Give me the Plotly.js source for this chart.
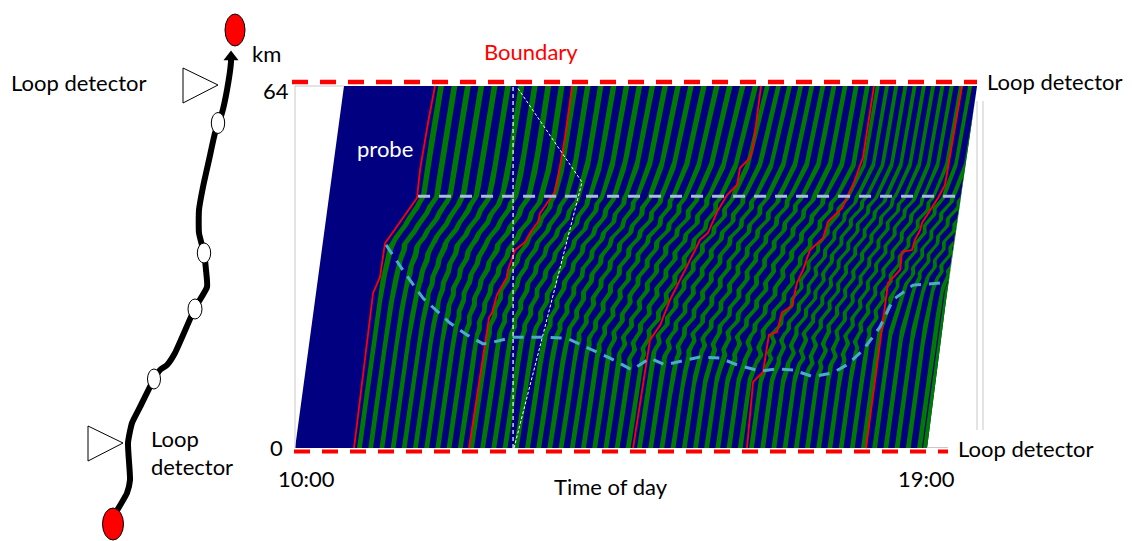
<!DOCTYPE html>
<html><head><meta charset="utf-8">
<script src="https://cdn.plot.ly/plotly-3.0.1.min.js"></script>
<style>html,body{margin:0;padding:0;background:#fff}#c{width:1132px;height:541px}</style>
</head><body><div id="c"></div>
<script>
// time in minutes after 10:00, position in km
const stripeEntry=[53.1,62.7,72.3,81.9,91.4,101.0,110.6,120.2,129.8,139.4,149.0,158.5,168.1,177.7,187.3,196.9,206.5,216.0,225.6,235.2,244.8,254.4,264.0,273.6,283.1,292.7,302.3,311.9,321.5,331.1,340.7,350.2,359.8,369.4,379.0,388.6,398.2,407.8,417.3,426.9,436.5,446.1,455.7,465.3,474.9,484.4,494.0,503.6,513.2,522.8,532.4,537.5];
const rippleShift=[0,.95,1.9,2.85,.6,1.55,2.5,.25,1.2,2.15,3.1,.85,1.8,2.75,.5,1.45,2.4,.15,1.1,2.05,3.0,.75,1.7,2.65,.4,1.35,2.3,.05,1.0,1.95,2.9,.65,1.6,2.55,.3,1.25,2.2,3.15,.9,1.85,2.8,.55,1.5,2.45,.2,1.15,2.1,3.05,.8,1.75,2.7,.45];
const rippleAmp=[.3,.3,.3,.3,.35,.35,.4,.4,.45,.45,.5,.5,.55,.55,.6,.6,.65,.65,.7,.7,.75,.75,.8,.8,.8,.8,.8,.8,.8,.8,.8,.8,.8,.8,.8,.8,.8,.8,.8,.8,.8,.8,.8,.8,.8,.8,.8,.8,.8,.8,.8,.8];
const rippleCycle=[0,1.0,1.7,1.9,1.4,0.4,-0.7,-1.6,-1.9,-1.3,-0.6,-0.2];
const ripplePeriodKm=3.2, stripeWidth=4.1, freeFlow=0.655;

// stripe drift (minutes behind free flow) read along the red trajectories
const driftKm=[0,12,16,20,24,28,32,36,40,44.5,50,64];
const driftEntry=[50.5,148.9,289.3,386.8,488.7,540.9];
const driftTable=[
 [0,0,0,0,0,0,1,3,14,25,25,27],
 [0,1.3,1,1.2,4,7.8,14.4,22.5,32.9,42,45.2,46.3],
 [0,1.2,1.2,4.3,11.8,17.4,24.7,31.8,42.5,50.6,60,67.6],
 [0,0,5.7,5.7,14.3,22.9,27.7,35.6,43.1,54,64.5,66.8],
 [0,0,0,0,4,8,15,22,29,39,46,49],
 [0,0,0,0,0,0,5,12,22,33,42,50]];

const redA=[[50.5,0],[66.8,27.4],[72.7,30.2],[77.0,36.2],[104.4,44.2],[107.0,49.2],[113.8,57.5],[119.8,64]];
const redB=[[148.9,0],[158.3,12.6],[160.9,16.8],[166.0,23.0],[168.6,23.9],[172.9,27.1],[181.4,30.2],[182.3,31.5],[188.3,35.0],[196.8,36.4],[201.1,38.0],[208.0,40.0],[209.7,41.5],[222.5,45.3],[225.1,47.9],[231.1,55.0],[237.1,64]];
const redC=[[289.3,0],[303.8,19.1],[312.4,21.7],[320.9,26.2],[338.0,33.2],[346.6,36.8],[353.4,38.0],[361.1,41.7],[369.7,44.7],[378.3,46.5],[380.8,49.5],[389.4,51.3],[392.0,53.2],[398.8,64]];
const redD=[[386.8,0],[392.0,11.7],[400.5,13.4],[405.6,20.0],[412.5,20.5],[416.8,24.0],[425.3,25.1],[429.6,29.2],[434.8,31.5],[440.7,35.0],[451.9,37.1],[456.1,40.0],[468.1,42.4],[477.5,46.5],[486.1,51.4],[495.5,64]];
const redE=[[488.7,0],[503.2,22.3],[507.5,29.2],[517.8,31.5],[519.5,34.7],[528.0,35.0],[530.6,36.8],[534.9,38.5],[536.6,39.8],[550.3,44.2],[556.3,46.5],[570.8,64]];
const leftEdge=[[0,0],[41.9,64]];
const rightEdge=[[540.9,0],[560.5,31.5],[571.7,46.9],[583.7,64]];
const lowerCurve=[[77.9,35.9],[94.1,30.9],[109.5,26.5],[118.1,24.8],[132.6,22.1],[147.2,20.0],[160.9,18.4],[169.4,18.7],[186.6,19.6],[209.7,19.6],[232.8,19.4],[252.5,17.5],[269.6,15.9],[288.4,13.8],[303.8,15.9],[316.6,14.7],[346.6,16.1],[363.7,15.9],[378.3,14.7],[397.9,13.6],[412.5,14.0],[426.2,13.8],[443.3,12.6],[460.4,13.3],[472.4,14.7],[486.1,17.3],[500.6,21.4],[511.8,26.2],[528.9,28.8],[554.6,29.2]];
const upperKm=44.5, upperT=[105.3,569.1];
const whiteVert=[[186.6,0],[186.6,64]];
const whiteTri=[[187.4,0],[245.6,47.0],[190.0,63.8]];

// schematic, page-sized frame units
const routeX=[231,231,227,222,215,209,203,199,199,204,206,207,195,175,167,160,154,140,132,128,130,127,113];
const routeY=[60,62,90,113,133,160,187,210,233,253,270,287,308,353,365,370,379,407,423,443,480,493,517];
const redOvals=[[235,30,10,16],[113,524,10.5,16]];
const whiteOvals=[[218,123,6.7,10.5],[204,253,6.7,10],[195,309,7,10],[154,379,6.5,10]];
const triA=[[183,68],[218,85],[183,103],[183,68]];
const triB=[[88,426],[123,443],[88,461],[88,426]];
const frames=[[[295,448],[295,86],[344,86]],[[977,101],[977,430]],[[983,101],[983,430]],[[927,447.5],[948,447.5]]];
const boundaryTop=[[292,82],[977,82]], boundaryBottom=[[294,451.5],[948,451.5]];
const labels=[
 ["Boundary",531,51.5,"#ff0000"],["km",266,53,"#000"],["Loop detector",79,82.5,"#000"],["Loop detector",1055,81.5,"#000"],
 ["Loop detector",1026,448.5,"#000"],["Loop",175,438.5,"#000"],["detector",192,466.5,"#000"],["probe",385,148.5,"#fff"],
 ["64",276,90.5,"#000"],["0",276,447.5,"#000"],["10:00",306,478.5,"#000"],["19:00",926,478.5,"#000"],["Time of day",611,486.5,"#000"]];

const col=i=>(p=>p.map(r=>r[i]));
const X=col(0),Y=col(1);
function tAtKm(poly,km){
  for(let i=1;i<poly.length;i++) if(km<=poly[i][1]){
    const a=poly[i-1],b=poly[i];return a[0]+(b[0]-a[0])*(km-a[1])/(b[1]-a[1]);}
  return poly[poly.length-1][0];
}
function kmAtT(poly,t){
  if(t<=poly[0][0])return poly[0][1];
  for(let i=1;i<poly.length;i++) if(t<=poly[i][0]){
    const a=poly[i-1],b=poly[i];return a[1]+(b[1]-a[1])*(t-a[0])/(b[0]-a[0]);}
  return poly[poly.length-1][1];
}
const reds=[redA,redB,redC,redD,redE];
function driftOf(row,km){
  for(let i=1;i<driftKm.length;i++) if(km<=driftKm[i]){
    const f=(km-driftKm[i-1])/(driftKm[i]-driftKm[i-1]);return row[i-1]*(1-f)+row[i]*f;}
  return row[row.length-1];
}
function driftAt(t0,km){
  if(t0<=driftEntry[0])return driftOf(driftTable[0],km);
  for(let i=1;i<driftEntry.length;i++){
    const a=driftEntry[i-1],b=driftEntry[i];
    if(t0<=b){const w=(t0-a)/(b-a);return driftOf(driftTable[i-1],km)*(1-w)+driftOf(driftTable[i],km)*w;}
  }
  return driftOf(driftTable[driftTable.length-1],km);
}
const clamp01=v=>Math.max(0,Math.min(1,v));
function pathT(t0,km,i){
  let t=t0+freeFlow*km+driftAt(t0,km);
  const low=kmAtT(lowerCurve,t);
  const gate=clamp01((km-low)/2)*clamp01((upperKm+0.5-km)/1.5);
  const n=rippleCycle.length;
  let p=((km+rippleShift[i])/ripplePeriodKm)%1*n;
  const a=Math.floor(p)%n,b=(a+1)%n,f=p-Math.floor(p);
  t+=gate*rippleAmp[i]*(rippleCycle[a]*(1-f)+rippleCycle[b]*f);
  return Math.min(t,tAtKm(rightEdge,km));
}
const levels=[];for(let k=0;k<=64.0001;k+=0.3)levels.push(Math.min(k,64));
if(levels[levels.length-1]<64)levels.push(64);
const gx=[],gy=[];
stripeEntry.forEach((t0,i)=>{
  levels.forEach(k=>{gx.push(pathT(t0,k,i));gy.push(k);});
  [...levels].reverse().forEach(k=>{gx.push(pathT(t0+stripeWidth,k,i));gy.push(k);});
  gx.push(null);gy.push(null);
});
const blue=[...leftEdge,...[...rightEdge].reverse(),leftEdge[0]];
const line=(pts,color,width,dash,extra)=>Object.assign({type:'scatter',mode:'lines',x:X(pts),y:Y(pts),line:{color,width,dash:dash||'solid'},hoverinfo:'skip',showlegend:false},extra||{});
const pg={xaxis:'x2',yaxis:'y2'};
const traces=[
 ...frames.map(f=>line(f,'#c8c8c8',1,null,pg)),
 {type:'scatter',mode:'lines',x:X(blue),y:Y(blue),fill:'toself',fillcolor:'#000080',line:{width:0},hoverinfo:'skip',showlegend:false},
 {type:'scatter',mode:'lines',x:gx,y:gy,fill:'toself',fillcolor:'#007a00',line:{width:0},hoverinfo:'skip',showlegend:false},
 ...reds.map(r=>line(r,'#ff0000',1.8)),
 line(whiteVert,'#ffffff',1.2,'4px,3px'),
 line(whiteTri,'#ffffff',1,'3px,2px'),
 line(lowerCurve,'#4bacc6',3,'11px,8px'),
 line([[upperT[0],upperKm],[upperT[1],upperKm]],'#a9bbdc',3,'12px,9px'),
 line(boundaryTop,'#ff0000',4.5,'16px,12px',pg),
 line(boundaryBottom,'#ff0000',4,'16px,12px',pg),
 {type:'scatter',mode:'lines',x:routeX,y:routeY,line:{color:'#000',width:6,shape:'spline',smoothing:0.5},hoverinfo:'skip',showlegend:false,...pg},
 {type:'scatter',mode:'markers',x:[231],y:[57],marker:{symbol:'triangle-up',size:13,color:'#000',line:{width:0}},hoverinfo:'skip',showlegend:false,...pg},
 line(triA,'#000',1,null,{...pg,fill:'toself',fillcolor:'#fff'}),
 line(triB,'#000',1,null,{...pg,fill:'toself',fillcolor:'#fff'})
];
const oval=(o,fill)=>({type:'circle',xref:'x2',yref:'y2',x0:o[0]-o[2],x1:o[0]+o[2],y0:o[1]-o[3],y1:o[1]+o[3],fillcolor:fill,line:{color:'#000',width:1}});
const layout={
 width:1132,height:541,margin:{l:0,r:0,t:0,b:0},paper_bgcolor:'#fff',plot_bgcolor:'#fff',showlegend:false,
 xaxis:{range:[-252.5,716.3],visible:false,fixedrange:true},
 yaxis:{range:[-16.44,79.2],visible:false,fixedrange:true},
 xaxis2:{range:[0,1132],overlaying:'x',visible:false,fixedrange:true},
 yaxis2:{range:[541,0],overlaying:'y',visible:false,fixedrange:true},
 shapes:[...redOvals.map(o=>oval(o,'#ff0000')),...whiteOvals.map(o=>oval(o,'#ffffff'))],
 annotations:labels.map(l=>({text:l[0],x:l[1],y:l[2],xref:'x2',yref:'y2',showarrow:false,xanchor:'center',yanchor:'middle',font:{family:'Lato',size:22,color:l[3]}}))
};
Plotly.newPlot('c',traces,layout,{staticPlot:true,displayModeBar:false});
</script></body></html>
